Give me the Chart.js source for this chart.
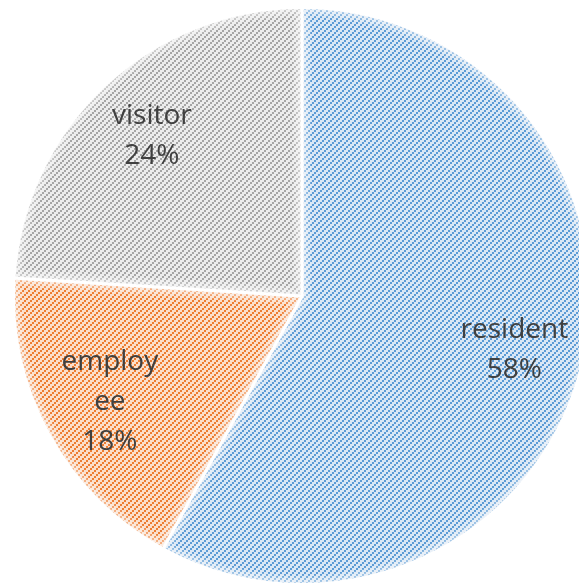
<!DOCTYPE html>
<html>
<head>
<meta charset="utf-8">
<script src="https://cdn.jsdelivr.net/npm/chart.js@4.4.0/dist/chart.umd.min.js"></script>
<style>
  html, body { margin: 0; padding: 0; background: #fff; overflow: hidden; }
  #wrap { position: absolute; left: 0; top: 6px; width: 604px; height: 580px; }
</style>
</head>
<body>
<div id="wrap"><canvas id="pie"></canvas></div>
<script>
const categories = ['resident', 'employee', 'visitor'];
const labelLines = [['resident'], ['employ', 'ee'], ['visitor']];
const shares = [58, 18, 24];
const stripeColors = ['#5b9bd5', '#ed7d31', '#a5a5a5'];
const fillColors = ['#dae7f5', '#fbdfcb', '#ececec'];

// upward diagonal hatch made of 2x2 blocks, like Excel's pattern fill
function hatch(fg, bg) {
  const c = document.createElement('canvas');
  c.width = 6; c.height = 6;
  const g = c.getContext('2d');
  g.fillStyle = bg;
  g.fillRect(0, 0, 6, 6);
  g.fillStyle = fg;
  for (let by = 0; by < 3; by++) {
    for (let bx = 0; bx < 3; bx++) {
      if ((bx + by) % 3 === 0) g.fillRect(bx * 2, by * 2, 2, 2);
    }
  }
  return g.createPattern(c, 'repeat');
}

// soft light edge inside every slice
const sliceGlow = {
  id: 'sliceGlow',
  afterDatasetsDraw(chart) {
    const ctx = chart.ctx;
    chart.getDatasetMeta(0).data.forEach(arc => {
      const p = arc.getProps(['x', 'y', 'startAngle', 'endAngle', 'outerRadius'], true);
      ctx.save();
      ctx.beginPath();
      ctx.moveTo(p.x, p.y);
      ctx.arc(p.x, p.y, p.outerRadius, p.startAngle, p.endAngle);
      ctx.closePath();
      ctx.clip();
      ctx.strokeStyle = 'rgba(255,255,255,0.16)';
      ctx.lineJoin = 'round';
      [18, 13, 9, 5].forEach(w => { ctx.lineWidth = w; ctx.stroke(); });
      ctx.restore();
    });
  }
};

const sliceLabels = {
  id: 'sliceLabels',
  afterDatasetsDraw(chart) {
    const ctx = chart.ctx;
    const meta = chart.getDatasetMeta(0);
    const total = shares.reduce((a, b) => a + b, 0);
    ctx.save();
    ctx.fillStyle = '#404040';
    ctx.font = '28px "Open Sans", sans-serif';
    ctx.textAlign = 'center';
    ctx.textBaseline = 'middle';
    meta.data.forEach((arc, i) => {
      const p = arc.getProps(['x', 'y', 'startAngle', 'endAngle', 'outerRadius'], true);
      const mid = (p.startAngle + p.endAngle) / 2;
      const r = p.outerRadius * 0.76;
      const cx = p.x + Math.cos(mid) * r;
      const cy = p.y + Math.sin(mid) * r;
      const lines = labelLines[i].concat([Math.round(shares[i] / total * 100) + '%']);
      const lh = 40;
      const y0 = cy - (lines.length - 1) * lh / 2;
      lines.forEach((t, k) => ctx.fillText(t, cx, y0 + k * lh));
    });
    ctx.restore();
  }
};

new Chart(document.getElementById('pie'), {
  type: 'pie',
  data: {
    labels: categories,
    datasets: [{
      data: shares,
      backgroundColor: stripeColors.map((c, i) => hatch(c, fillColors[i])),
      borderColor: '#ffffff',
      borderWidth: 3
    }]
  },
  options: {
    responsive: true,
    maintainAspectRatio: false,
    animation: false,
    layout: { padding: 0 },
    plugins: {
      legend: { display: false },
      tooltip: { enabled: false }
    }
  },
  plugins: [sliceGlow, sliceLabels]
});
</script>
</body>
</html>
